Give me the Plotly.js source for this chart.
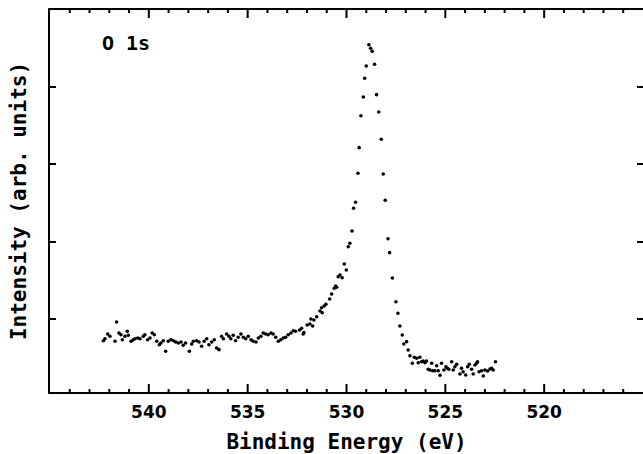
<!DOCTYPE html>
<html>
<head>
<meta charset="utf-8">
<script src="https://cdn.plot.ly/plotly-3.0.1.min.js"></script>
<style>html,body{margin:0;padding:0;background:#fff;}#chart{width:643px;height:454px;}</style>
</head>
<body>
<div id="chart"></div>
<script>
// Binding energy (eV)
const bindingEnergy = [
542.30,542.22,542.08,541.97,541.71,541.63,541.51,541.41,541.34,541.21,541.09,541.04,540.90,540.79,540.70,540.56,540.45,540.28,540.20,540.06,
539.94,539.83,539.72,539.60,539.47,539.39,539.27,539.15,539.02,538.88,538.76,538.64,538.51,538.37,538.26,538.14,537.95,537.83,537.75,537.58,
537.46,537.33,537.20,537.07,536.96,536.82,536.69,536.57,536.45,536.32,536.23,536.06,535.95,535.85,535.73,535.61,535.48,535.34,535.22,535.10,
534.97,534.83,534.72,534.58,534.46,534.33,534.21,534.09,533.96,533.82,533.71,533.58,533.45,533.32,533.20,533.08,532.95,532.81,532.69,532.57,
532.37,532.27,532.19,532.15,531.99,531.85,531.80,531.71,531.65,531.51,531.34,531.26,531.23,531.13,531.04,530.85,530.75,530.62,530.55,530.50,
530.42,530.33,530.22,530.11,530.01,529.91,529.83,529.72,529.64,529.54,529.42,529.36,529.27,529.15,529.08,529.00,528.87,528.78,528.70,528.58,
528.48,528.37,528.24,528.14,528.04,527.90,527.82,527.68,527.50,527.40,527.30,527.18,527.10,526.96,526.88,526.79,526.67,526.57,526.45,526.37,
526.29,526.20,526.12,526.03,525.95,525.87,525.78,525.69,525.64,525.53,525.44,525.36,525.27,525.19,525.07,524.97,524.90,524.82,524.68,524.60,
524.52,524.43,524.26,524.18,524.10,523.97,523.87,523.79,523.67,523.59,523.50,523.42,523.37,523.29,523.17,523.08,523.00,522.86,522.74,522.66,
522.58,522.46
];
// Intensity (arb. units)
const intensity = [
725,751,812,782,718,967,825,803,738,782,847,795,718,738,751,760,751,782,803,738,
760,825,803,718,674,696,725,589,718,738,725,709,696,709,666,696,589,683,718,725,
709,653,718,751,674,709,738,631,610,782,751,812,782,751,795,725,769,812,769,751,
782,738,718,709,760,782,825,812,803,825,812,769,718,738,760,769,803,825,854,847,
863,885,812,829,928,941,1005,915,992,1035,1108,1151,1086,1173,1195,1263,1327,1401,1430,1414,
1550,1572,1537,1714,1637,1937,1981,2139,2432,2509,2883,3213,3625,3866,4107,4266,4540,4494,4455,4288,
3896,3673,3321,2874,2535,2040,1860,1534,1228,1079,915,799,683,713,606,532,434,512,499,442,
512,455,464,442,464,357,348,434,339,339,403,339,280,434,348,390,370,357,455,348,
390,421,296,370,326,284,390,421,357,296,412,434,455,326,339,271,348,335,361,370,
348,455
];
const xTickVals = [540, 535, 530, 525, 520];
const xTickText = ['540', '535', '530', '525', '520'];
const xMinorTickVals = [544, 543, 542, 541, 539, 538, 537, 536, 534, 533, 532, 531, 529, 528, 527, 526, 524, 523, 522, 521, 519, 518, 517, 516];
const yTickVals = [1000, 2000, 3000, 4000];
const xRange = [545, 515];

const trace = {
  x: bindingEnergy,
  y: intensity,
  type: 'scatter',
  mode: 'markers',
  marker: {color: '#000', size: 3.6},
  hoverinfo: 'x+y'
};

// Inward x tick marks on the bottom and top frame, placed from the axis values via the axis range
const plotHeightPx = 454 - 9 - 61;
function toPaperX(v) { return (v - xRange[0]) / (xRange[1] - xRange[0]); }
function tickShapes(vals, lenPx) {
  const f = lenPx / plotHeightPx;
  const out = [];
  vals.forEach(v => {
    const px = toPaperX(v);
    out.push({type: 'line', xref: 'paper', yref: 'paper', x0: px, x1: px, y0: 0, y1: f, line: {color: '#000', width: 2}});
    out.push({type: 'line', xref: 'paper', yref: 'paper', x0: px, x1: px, y0: 1, y1: 1 - f, line: {color: '#000', width: 2}});
  });
  return out;
}
const frameShapes = [
  {type: 'line', xref: 'paper', yref: 'paper', x0: -0.003, x1: 1, y0: 0, y1: 0, line: {color: '#000', width: 2}},
  {type: 'line', xref: 'paper', yref: 'paper', x0: -0.003, x1: 1, y0: 1, y1: 1, line: {color: '#000', width: 2}}
];
const shapes = frameShapes.concat(tickShapes(xTickVals, 9), tickShapes(xMinorTickVals, 4));

const monoBold = 'DejaVu Sans Mono';
const layout = {
  width: 643,
  height: 454,
  margin: {l: 50, r: 0, t: 9, b: 61},
  paper_bgcolor: '#fff',
  plot_bgcolor: '#fff',
  showlegend: false,
  font: {family: monoBold, color: '#000'},
  xaxis: {
    range: xRange,
    tickmode: 'array',
    tickvals: xTickVals,
    ticktext: xTickText,
    ticks: '',
    ticklabelstandoff: 7,
    showline: false,
    showgrid: false,
    zeroline: false,
    tickfont: {family: 'DejaVu Sans', size: 17, weight: 'bold', color: '#000'},
    title: {text: 'Binding Energy (eV)', font: {family: monoBold, size: 21, weight: 'bold', color: '#000'}, standoff: 13}
  },
  yaxis: {
    range: [51.5, 5000],
    tickmode: 'array',
    tickvals: yTickVals,
    showticklabels: false,
    ticks: 'inside',
    ticklen: 6,
    tickwidth: 2,
    tickcolor: '#000',
    showline: true,
    linewidth: 2,
    linecolor: '#000',
    mirror: 'allticks',
    showgrid: false,
    zeroline: false,
    title: {text: 'Intensity (arb. units)', font: {family: monoBold, size: 21, weight: 'bold', color: '#000'}, standoff: 16}
  },
  shapes: shapes,
  annotations: [{
    text: 'O 1s',
    xref: 'paper', yref: 'paper',
    x: 0.084, y: 0.911,
    xanchor: 'left', yanchor: 'middle',
    showarrow: false,
    font: {family: monoBold, size: 20, weight: 'bold', color: '#000'}
  }]
};

Plotly.newPlot('chart', [trace], layout, {staticPlot: true, displayModeBar: false});
</script>
</body>
</html>
